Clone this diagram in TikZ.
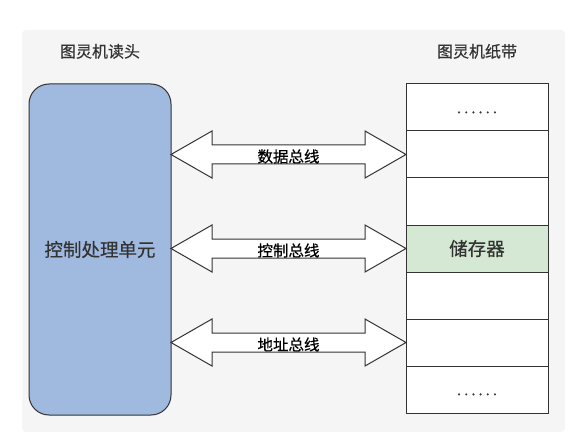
\documentclass[tikz,border=0pt]{standalone}
\usepackage{fontspec}
\newfontfamily\cjk[FakeBold=0.5]{Noto Sans CJK SC}
\usepackage{tikz}
\usetikzlibrary{positioning, calc}

\definecolor{panelgray}{HTML}{F5F5F5}
\definecolor{headblue}{HTML}{9FB9DF}
\definecolor{memgreen}{HTML}{D5E8D4}
\definecolor{inkgray}{HTML}{333333}

\newcommand{\tapedots}{\fontsize{15}{15}\selectfont\vphantom{储}%
  \addfontfeature{LetterSpace=20}......}
% bus arrow: name, left end, right end, label
\newcommand{\busarrow}[4]{%
  \draw[bus] (#2) -- ++(41,-23.5) -- ++(0,14) -- ($(#3)+(-41,-9.5)$)
    -- ++(0,-14) -- (#3) -- ++(-41,23.5) -- ++(0,-14)
    -- ($(#2)+(41,9.5)$) -- ++(0,14) -- cycle;
  \path (#2) -- (#3) node[midway, buslabel] (#1) {#4};}

\begin{document}
\begin{tikzpicture}[x=1pt, y=-1pt,
  box/.style={draw=inkgray, line width=1pt, inner sep=0pt, outer sep=0pt},
  title/.style={font=\cjk\fontsize{16}{16}\selectfont, text=inkgray, inner sep=0pt},
  cell/.style={box, fill=white, minimum width=142pt, minimum height=47pt,
    font=\cjk\fontsize{18.5}{18.5}\selectfont, text=inkgray},
  bus/.style={draw=inkgray, line width=1pt, fill=white, line join=miter},
  buslabel/.style={font=\cjk\fontsize{15.5}{15.5}\selectfont, text=black,
    inner sep=0pt, yshift=-2pt}]
  \useasboundingbox (0,0) rectangle (568,441);
  % Background panel
  \fill[panelgray, rounded corners=4pt] (22,30) rectangle (565,432);
  % Read head
  \node[box, fill=headblue, rounded corners=20pt, minimum width=142pt,
    minimum height=331pt, font=\cjk\fontsize{18.5}{18.5}\selectfont,
    text=inkgray] (cpu) at (100,249.5) {控制处理单元};
  \node[title, above=25pt of cpu] (cputitle) {图灵机读头};
  % Tape
  \node[cell, anchor=north] (cell1) at (477,84) {\tapedots};
  \foreach \i/\j/\col/\txt in {2/1/white/{}, 3/2/white/{}, 4/3/memgreen/储存器,
      5/4/white/{}, 6/5/white/{}, 7/6/white/\tapedots}
    \node[cell, fill=\col, below=0pt of cell\j] (cell\i) {\txt};
  \node[title, above=25pt of cell1] (tapetitle) {图灵机纸带};
  % Buses
  \coordinate (dataL) at (cpu.east |- cell2.west);
  \coordinate (ctrlL) at (cpu.east |- cell4.west);
  \coordinate (addrL) at (cpu.east |- cell6.west);
  \busarrow{databus}{dataL}{cell2.west}{数据总线}
  \busarrow{ctrlbus}{ctrlL}{cell4.west}{控制总线}
  \busarrow{addrbus}{addrL}{cell6.west}{地址总线}
\end{tikzpicture}
\end{document}
